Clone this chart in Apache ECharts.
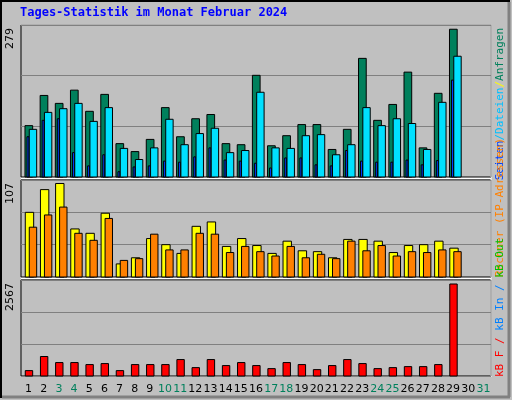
<!DOCTYPE html>
<html><head><meta charset="utf-8">
<script src="https://cdn.jsdelivr.net/npm/echarts@6/dist/echarts.min.js"></script>
<style>body{margin:0;background:#fff}#c{width:512px;height:400px}</style>
</head><body><div id="c"></div>
<script>
const days = Array.from({length:31},(_,i)=>String(i+1));
const weekend = [3,4,10,11,17,18,24,25,31];
const hits  = [97,154,139,164,124,156,63,48,71,131,76,110,118,63,61,192,59,78,99,99,52,90,224,107,137,198,55,158,279];
const files = [90,122,129,139,105,131,54,33,55,109,61,82,92,46,50,160,55,54,78,80,42,61,131,97,110,101,52,141,228];
const pages = [76,107,110,46,21,42,10,19,21,30,28,38,55,32,30,26,17,36,36,23,21,50,30,28,28,32,23,31,183];
const visits= [74,100,107,55,50,73,15,22,44,37,27,58,63,35,44,36,27,41,30,29,22,43,43,41,28,36,37,41,33];
const sites = [57,71,80,50,42,67,19,21,49,31,31,50,49,28,35,29,24,35,22,26,21,41,30,36,24,29,28,31,29];
const kbytes= [150,544,375,375,319,347,150,319,319,319,459,234,459,291,375,291,206,375,319,178,291,459,347,206,234,262,262,319,2567];
const maxLabels = ['279','107','2567'];

function barSeries(data, xi, yi, x0, x1, color, z){
  return {type:'custom', xAxisIndex:xi, yAxisIndex:yi, z:z,
    data:data.map((v,i)=>[i,v]),
    renderItem:(p,api)=>{
      const c=api.coord([api.value(0),api.value(1)]);
      const b=api.coord([api.value(0),0]);
      return {type:'rect',shape:{x:c[0]+x0,y:c[1],width:x1-x0,height:b[1]-c[1]},
        style:{fill:color,stroke:'#000',lineWidth:1}};
    }};
}
const grids=[{left:21,width:470,top:25,height:152},{left:21,width:470,top:180,height:97},{left:21,width:470,top:280,height:96}];
const maxes=[287,111,2679];
const chart=echarts.init(document.getElementById('c'));
chart.setOption({
  backgroundColor:'#c0c0c0', animation:false,
  grid:grids.map(g=>Object.assign({show:true,backgroundColor:'#c0c0c0',borderColor:'#000',borderWidth:1},g)),
  xAxis:[0,1,2].map(i=>({type:'category',gridIndex:i,data:days,boundaryGap:true,
    axisLine:{show:false},axisTick:{show:false},
    axisLabel:{show:i===2,interval:0,margin:8,fontFamily:'DejaVu Sans',fontSize:11,
      color:(v)=>'#000',formatter:(v)=>weekend.includes(+v)?'{w|'+v+'}':v,
      rich:{w:{color:'#00805c',fontFamily:'DejaVu Sans',fontSize:11}}}})),
  yAxis:[0,1,2].map(i=>({type:'value',gridIndex:i,min:0,max:maxes[i],interval:maxes[i]/3,
    axisLine:{show:false},axisTick:{show:false},axisLabel:{show:false},
    splitLine:{lineStyle:{color:'#808080',width:1}}})),
  series:[
    barSeries(hits,0,0,-3.6,4.1,'#00805c',2),
    barSeries(pages,0,0,-1.6,0.4,'#0040ff',3),
    barSeries(files,0,0,0.7,8.1,'#00e0ff',4),
    barSeries(visits,1,1,-3.3,5.1,'#ffff00',2),
    barSeries(sites,1,1,0.7,8.1,'#ff8000',3),
    barSeries(kbytes,2,2,-3.3,4.1,'#ff0000',2)
  ],
  graphic:[
    {type:'rect',shape:{x:1,y:1,width:508,height:396},style:{fill:'none',stroke:'#000',lineWidth:2}},
    {type:'line',shape:{x1:2,y1:397,x2:510,y2:397},style:{stroke:'#808080',lineWidth:3}},
    {type:'line',shape:{x1:509,y1:2,x2:509,y2:397},style:{stroke:'#808080',lineWidth:3}},
    {type:'line',shape:{x1:21,y1:25,x2:491,y2:25},style:{stroke:'#fff',lineWidth:1}},
    {type:'line',shape:{x1:491,y1:25,x2:491,y2:377},style:{stroke:'#fff',lineWidth:1}},
    {type:'line',shape:{x1:21,y1:178.5,x2:491,y2:178.5},style:{stroke:'#fff',lineWidth:1}},
    {type:'line',shape:{x1:21,y1:278.5,x2:491,y2:278.5},style:{stroke:'#fff',lineWidth:1}},
    {type:'text',left:20,top:7,style:{text:'Tages-Statistik im Monat Februar 2024',fill:'#0000ff',font:'bold 12px "DejaVu Sans Mono"'}},
    {type:'text',x:10,y:28,rotation:Math.PI/2,style:{text:maxLabels[0],fill:'#000',font:'11px "DejaVu Sans"',align:'right',verticalAlign:'middle'}},
    {type:'text',x:10,y:183,rotation:Math.PI/2,style:{text:maxLabels[1],fill:'#000',font:'11px "DejaVu Sans"',align:'right',verticalAlign:'middle'}},
    {type:'text',x:10,y:283,rotation:Math.PI/2,style:{text:maxLabels[2],fill:'#000',font:'11px "DejaVu Sans"',align:'right',verticalAlign:'middle'}},
    {type:'text',x:500,y:28,rotation:Math.PI/2,style:{rich:{g:{fill:'#00805c',font:'11px "DejaVu Sans Mono"'},y:{fill:'#ffff00',font:'11px "DejaVu Sans Mono"'},b:{fill:'#0040ff',font:'11px "DejaVu Sans Mono"'},c:{fill:'#00c0ff',font:'11px "DejaVu Sans Mono"'}},text:'{b|Seiten}{c|/}{c|Dateien}{y|/}{g|Anfragen}',align:'right',verticalAlign:'middle'}},
    {type:'text',x:500,y:277,rotation:Math.PI/2,style:{rich:{o:{fill:'#ff8000',font:'11px "DejaVu Sans Mono"'}},text:'{o|Rechner (IP-Adressen)}',align:'left',verticalAlign:'middle'}},
    {type:'text',x:500,y:377,rotation:Math.PI/2,style:{rich:{r:{fill:'#ff0000',font:'11px "DejaVu Sans Mono"'},b:{fill:'#0080ff',font:'11px "DejaVu Sans Mono"'},g:{fill:'#00c000',font:'11px "DejaVu Sans Mono"'}},text:'{r|kB F / }{b|kB In / }{g|kB Out}',align:'left',verticalAlign:'middle'}}
  ]
});
</script></body></html>
